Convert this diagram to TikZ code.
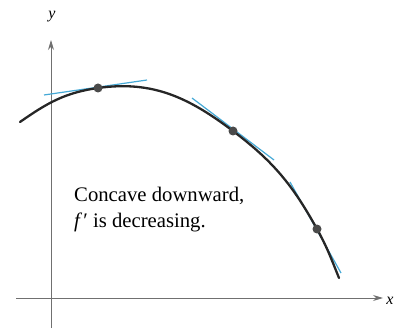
\documentclass[tikz,border=0pt]{standalone}
\usepackage{fontspec}
\setmainfont{Liberation Serif}
\usetikzlibrary{arrows.meta}
\definecolor{curvec}{HTML}{262626}
\definecolor{tanc}{HTML}{45A9D6}
\definecolor{axisc}{HTML}{707070}
\definecolor{dotc}{HTML}{4A4A4A}
\tikzset{
  axis/.style={draw=axisc, line width=0.9pt, -{Stealth[length=10pt,width=6pt]}},
  fcurve/.style={draw=curvec, line width=2.3pt, line cap=round},
  tanline/.style={draw=tanc, line width=1.2pt},
  pdot/.style={circle, fill=dotc, inner sep=0pt, minimum size=9pt},
  lbl/.style={font=\fontsize{20.7}{24}\selectfont, inner sep=0pt},
  axlbl/.style={font=\fontsize{16}{18}\selectfont\itshape, inner sep=0pt}
}
\begin{document}
\begin{tikzpicture}[x=1pt,y=1pt]
\useasboundingbox (0,0) rectangle (395,329);
% axes
\coordinate (yb) at (51,1);
\coordinate (yt) at (51,289);
\coordinate (xl) at (16,31);
\coordinate (xr) at (383,31);
\draw[axis] (yb) -- (yt);
\draw[axis] (xl) -- (xr);
\node[axlbl] (ylab) at (52,312) {y};
\node[axlbl] (xlab) at (390,28) {x};
% curve points
\coordinate (p0) at (20,207);
\coordinate (p1) at (98,241);
\coordinate (p2) at (233,198);
\coordinate (p3) at (317,100);
\coordinate (p4) at (339,51);
% tangent lines
\coordinate (t1a) at (44,234);
\coordinate (t1b) at (147,249);
\coordinate (t2a) at (192,231);
\coordinate (t2b) at (274,169);
\coordinate (t3a) at (290,147);
\coordinate (t3b) at (341,56);
\draw[tanline] (t1a) -- (t1b);
\draw[tanline] (t2a) -- (t2b);
\draw[tanline] (t3a) -- (t3b);
% curve
\draw[fcurve] (p0) to[out=35,in=188] (p1) to[out=8,in=143] (p2) to[out=-37,in=119] (p3) to[out=-61,in=112] (p4);
% dots
\node[pdot] (d1) at (p1) {};
\node[pdot] (d2) at (p2) {};
\node[pdot] (d3) at (p3) {};
% text
\node[lbl, anchor=base west] (t1) at (74,128) {Concave downward,};
\node[lbl, anchor=base west] (t2) at (74,102) {\textit{f}\kern1pt′ is decreasing.};
\end{tikzpicture}
\end{document}
